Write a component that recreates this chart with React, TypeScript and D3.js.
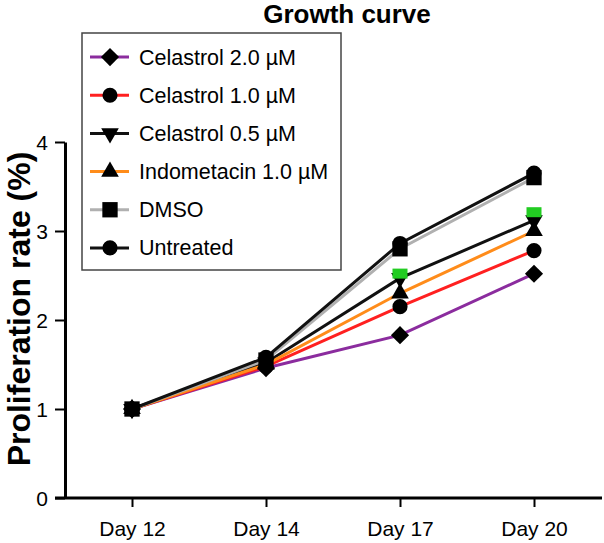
import React, { useEffect, useRef } from "react";
import * as d3 from "d3";

const days = ["Day 12", "Day 14", "Day 17", "Day 20"];
const yTicks = [0, 1, 2, 3, 4];

const seriesNames = [
  "Celastrol 2.0 µM",
  "Celastrol 1.0 µM",
  "Celastrol 0.5 µM",
  "Indometacin 1.0 µM",
  "DMSO",
  "Untreated",
];
const celastrol20 = [1.0, 1.46, 1.83, 2.52];
const celastrol10 = [1.0, 1.48, 2.15, 2.78];
const celastrol05 = [1.0, 1.52, 2.47, 3.12];
const indometacin = [1.0, 1.5, 2.3, 3.0];
const dmso = [1.0, 1.55, 2.8, 3.6];
const untreated = [1.0, 1.58, 2.86, 3.65];
// stray green square markers seen in the figure
const greenMarks = [null, null, 2.51, 3.2];

const colors = ["#8b2c9e", "#ff2020", "#111111", "#ff8c1a", "#b0b0b0", "#111111"];
const shapes = ["diamond", "circle", "triDown", "triUp", "square", "circle"];
// markers are painted in this order so the squares sit on top
const markerOrder = [5, 0, 1, 2, 3, 4];

const W = 604;
const H = 543;

function symbolPath(shape: string) {
  if (shape === "diamond") return d3.symbol(d3.symbolSquare, 165)();
  if (shape === "circle") return d3.symbol(d3.symbolCircle, 180)();
  if (shape === "square") return d3.symbol(d3.symbolSquare, 235)();
  return d3.symbol(d3.symbolTriangle, 135)();
}
function symbolRotate(shape: string) {
  if (shape === "diamond") return 45;
  if (shape === "triDown") return 180;
  return 0;
}

export default function App() {
  const ref = useRef<SVGSVGElement>(null);

  useEffect(() => {
    const svg = d3.select(ref.current);
    svg.selectAll("*").remove();
    const values = [celastrol20, celastrol10, celastrol05, indometacin, dmso, untreated];

    const x = d3.scalePoint().domain(days).range([65, 601]).padding(0.5);
    const y = d3.scaleLinear().domain([0, 4]).range([498, 142]);

    const g = svg.append("g").attr("font-family", "Liberation Sans, Arial, sans-serif");

    // title
    g.append("text")
      .attr("x", 347)
      .attr("y", 23)
      .attr("text-anchor", "middle")
      .attr("font-size", 26)
      .attr("font-weight", "bold")
      .text("Growth curve");

    // y label
    g.append("text")
      .attr("transform", "translate(30,309) rotate(-90)")
      .attr("text-anchor", "middle")
      .attr("font-size", 32)
      .attr("font-weight", "bold")
      .text("Proliferation rate (%)");

    // y axis
    const yAxis = g
      .append("g")
      .attr("transform", "translate(65,0)")
      .call(
        d3
          .axisLeft(y)
          .tickValues(yTicks)
          .tickFormat(d3.format("d"))
          .tickSize(10)
          .tickSizeOuter(0)
          .tickPadding(7)
      );
    yAxis.select(".domain").attr("stroke-width", 3);
    yAxis.selectAll(".tick line").attr("stroke-width", 2);
    yAxis.selectAll(".tick text").attr("font-size", 21).attr("dy", "0.35em").attr("fill", "#000");

    // x axis
    const xAxis = g
      .append("g")
      .attr("transform", `translate(0,${y(0)})`)
      .call(d3.axisBottom(x).tickSize(9).tickSizeOuter(0).tickPadding(14));
    xAxis.select(".domain").remove();
    xAxis
      .append("line")
      .attr("x1", x.range()[0] - 10)
      .attr("x2", x.range()[1] + 1)
      .attr("stroke", "#000")
      .attr("stroke-width", 3);
    xAxis.selectAll(".tick line").attr("stroke-width", 2);
    xAxis.selectAll(".tick text").attr("font-size", 21).attr("fill", "#000");

    const line = d3
      .line<number>()
      .x((d, i) => x(days[i]) as number)
      .y((d) => y(d));

    values.forEach((vals, s) => {
      g.append("path")
        .attr("d", line(vals))
        .attr("fill", "none")
        .attr("stroke", colors[s])
        .attr("stroke-width", 3);
    });

    markerOrder.forEach((s) => {
      g.selectAll(null)
        .data(values[s])
        .join("path")
        .attr("d", symbolPath(shapes[s]))
        .attr(
          "transform",
          (d, i) => `translate(${x(days[i])},${y(d)}) rotate(${symbolRotate(shapes[s])})`
        )
        .attr("fill", "#000");
    });

    g.selectAll(null)
      .data(greenMarks.map((v, i) => ({ v, day: days[i] })).filter((d) => d.v !== null))
      .join("rect")
      .attr("x", (d) => (x(d.day) as number) - 7.5)
      .attr("y", (d) => y(d.v as number) - 6)
      .attr("width", 15)
      .attr("height", 10)
      .attr("fill", "#22cc22");

    // legend
    const legend = g.append("g");
    legend
      .append("rect")
      .attr("x", 82)
      .attr("y", 33)
      .attr("width", 259)
      .attr("height", 237)
      .attr("fill", "#fff")
      .attr("stroke", "#444")
      .attr("stroke-width", 1.5);
    const row = d3.scaleBand().domain(seriesNames).range([38, 267]);
    seriesNames.forEach((name, s) => {
      const cy = (row(name) as number) + row.bandwidth() / 2;
      legend
        .append("line")
        .attr("x1", 90)
        .attr("x2", 129)
        .attr("y1", cy)
        .attr("y2", cy)
        .attr("stroke", colors[s])
        .attr("stroke-width", 3);
      legend
        .append("path")
        .attr("d", symbolPath(shapes[s]))
        .attr("transform", `translate(110,${cy}) rotate(${symbolRotate(shapes[s])})`)
        .attr("fill", "#000");
      legend
        .append("text")
        .attr("x", 139)
        .attr("y", cy)
        .attr("dy", "0.35em")
        .attr("font-size", 21.5)
        .text(name);
    });
  }, []);

  return (
    <svg
      ref={ref}
      width={W}
      height={H}
      style={{ position: "absolute", left: 0, top: 0, background: "#fff" }}
    />
  );
}
